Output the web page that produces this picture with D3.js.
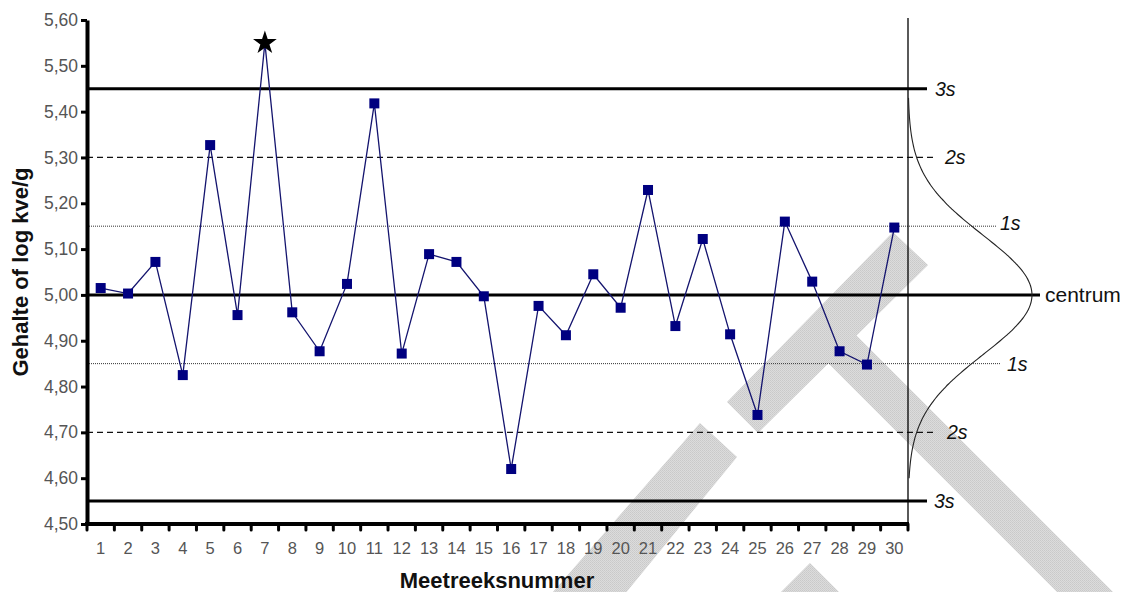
<!DOCTYPE html>
<html>
<head>
<meta charset="utf-8">
<script src="https://cdn.jsdelivr.net/npm/d3@7"></script>
<style>
  html, body { margin: 0; padding: 0; background: #fff; }
  svg { display: block; font-family: "Liberation Sans", Arial, sans-serif; }
</style>
</head>
<body>
<svg id="chart" width="1137" height="592"></svg>
<script>
// Run numbers (Meetreeksnummer) and measured content (log kve/g)
const categories = [1, 2, 3, 4, 5, 6, 7, 8, 9, 10, 11, 12, 13, 14, 15,
                    16, 17, 18, 19, 20, 21, 22, 23, 24, 25, 26, 27, 28, 29, 30];
const values = [5.015, 5.003, 5.072, 4.825, 5.327, 4.956, 5.550, 4.962, 4.877, 5.024,
                5.418, 4.872, 5.089, 5.072, 4.997, 4.620, 4.976, 4.912, 5.045, 4.972,
                5.229, 4.932, 5.122, 4.914, 4.738, 5.160, 5.029, 4.877, 4.848, 5.147];
// Runs outside the 3s limits are flagged with a star instead of a square
const flaggedRuns = [7];

// Y axis ticks
const yTicks = [4.50, 4.60, 4.70, 4.80, 4.90, 5.00, 5.10, 5.20, 5.30, 5.40, 5.50, 5.60];

// Control limits: centre line and +/- 1s, 2s, 3s
const centre = 5.00;
const sigma = 0.15;
const limitMultiples = [3, 2, 1, 0, -1, -2, -3];
const limitLabels = ["3s", "2s", "1s", "centrum", "1s", "2s", "3s"];
// spread used for the bell curve sketched beside the chart
const bellSpread = 0.13;
const bellRange = [4.60, 5.43];

// ---- layout ----
const svg = d3.select("#chart");
const plotLeft = 87, plotRight = 908, plotTop = 20, plotBottom = 524;

const x = d3.scaleBand().domain(categories).range([plotLeft, plotRight]);
const cx = d => x(d) + x.bandwidth() / 2;
const y = d3.scaleLinear().domain([4.5, 5.6]).range([plotBottom, plotTop]);

const nl = d3.formatLocale({ decimal: ",", thousands: ".", grouping: [3], currency: ["", ""] });
const fmt = nl.format(".2f");

// ---- watermark (light hatched stripes in the background) ----
const defs = svg.append("defs");
const pat = defs.append("pattern").attr("id", "wm").attr("patternUnits", "userSpaceOnUse")
  .attr("width", 2).attr("height", 2);
pat.append("rect").attr("width", 2).attr("height", 2).attr("fill", "#dcdcdc");
pat.append("rect").attr("width", 1).attr("height", 1).attr("fill", "#c9c9c9");
pat.append("rect").attr("x", 1).attr("y", 1).attr("width", 1).attr("height", 1).attr("fill", "#cecece");

const stripes = [
  [[700, 423], [737, 457], [620, 600], [546, 600]],
  [[727, 402], [893, 232], [928, 265], [758, 433]],
  [[828, 363], [856, 335], [1121, 600], [1065, 600]],
  [[773, 600], [810, 563], [847, 600]]
];
svg.append("g").selectAll("polygon").data(stripes).join("polygon")
  .attr("points", d => d.map(p => p.join(",")).join(" "))
  .attr("fill", "url(#wm)");

// ---- control limit lines ----
const limitEnds = [927, 935, 997, 1040, 1000, 937, 927];
const labelX = [935, 945, 1000, 1045, 1007, 947, 934];
const limits = limitMultiples.map((m, i) => ({
  m, v: centre + m * sigma, label: limitLabels[i], end: limitEnds[i], lx: labelX[i]
}));
const lineStyle = m => {
  const a = Math.abs(m);
  if (a === 3 || a === 0) return { w: 3, dash: null, c: "#000" };
  if (a === 2) return { w: 1.3, dash: "6,4", c: "#111" };
  return { w: 1, dash: "1,1", c: "#333" };
};
const gLim = svg.append("g");
gLim.selectAll("line").data(limits).join("line")
  .attr("x1", plotLeft).attr("x2", d => d.end)
  .attr("y1", d => y(d.v)).attr("y2", d => y(d.v))
  .attr("stroke", d => lineStyle(d.m).c)
  .attr("stroke-width", d => lineStyle(d.m).w)
  .attr("stroke-dasharray", d => lineStyle(d.m).dash);
gLim.selectAll("text").data(limits).join("text")
  .attr("x", d => d.lx).attr("y", d => y(d.v) + (d.m === 1 ? -3 : 0))
  .attr("dy", "0.36em")
  .attr("font-size", d => d.m === 0 ? 21 : 19.5)
  .attr("font-style", d => d.m === 0 ? "normal" : "italic")
  .attr("fill", "#111")
  .text(d => d.label);

// right-hand vertical line and bell curve
svg.append("line").attr("x1", plotRight).attr("x2", plotRight)
  .attr("y1", plotTop - 2).attr("y2", plotBottom)
  .attr("stroke", "#000").attr("stroke-width", 1.3);

const bellWidth = 124;
const bellPts = d3.range(bellRange[0], bellRange[1] + 1e-9, 0.005);
const bell = d3.line()
  .x(v => plotRight + bellWidth * Math.exp(-0.5 * Math.pow((v - centre) / bellSpread, 2)))
  .y(v => y(v))
  .curve(d3.curveBasis);
svg.append("path").attr("d", bell(bellPts))
  .attr("fill", "none").attr("stroke", "#222").attr("stroke-width", 1.1);

// ---- data series ----
const pts = categories.map((c, i) => ({ c, v: values[i] }));
svg.append("path")
  .attr("d", d3.line().x(d => cx(d.c)).y(d => y(d.v))(pts))
  .attr("fill", "none").attr("stroke", "#14146e").attr("stroke-width", 1.3);

const sq = 10;
svg.append("g").selectAll("rect").data(pts.filter(d => !flaggedRuns.includes(d.c))).join("rect")
  .attr("x", d => cx(d.c) - sq / 2).attr("y", d => y(d.v) - sq / 2)
  .attr("width", sq).attr("height", sq).attr("fill", "#000080");

svg.append("g").selectAll("path").data(pts.filter(d => flaggedRuns.includes(d.c))).join("path")
  .attr("transform", d => `translate(${cx(d.c)},${y(d.v)})`)
  .attr("d", d3.symbol(d3.symbolStar, 175))
  .attr("fill", "#000");

// ---- axes ----
const yAxis = svg.append("g").attr("transform", `translate(${plotLeft},0)`)
  .call(d3.axisLeft(y).tickValues(yTicks).tickFormat(fmt).tickSize(6).tickPadding(3).tickSizeOuter(0));
yAxis.select(".domain").attr("stroke", "#000").attr("stroke-width", 4);
yAxis.selectAll(".tick line").attr("stroke", "#000").attr("stroke-width", 3);
yAxis.selectAll(".tick text").attr("font-size", 17.5).attr("fill", "#555")
  .attr("font-family", "'Liberation Sans', Arial, sans-serif");

// x axis: baseline, boundary ticks, centred labels
svg.append("line").attr("x1", plotLeft - 2).attr("x2", plotRight + 1)
  .attr("y1", plotBottom).attr("y2", plotBottom)
  .attr("stroke", "#000").attr("stroke-width", 4);
const bounds = categories.map(c => x(c)).concat([x(categories[categories.length - 1]) + x.bandwidth()]);
svg.append("g").selectAll("line").data(bounds).join("line")
  .attr("x1", d => d).attr("x2", d => d)
  .attr("y1", plotBottom).attr("y2", plotBottom + 6)
  .attr("stroke", "#000").attr("stroke-width", 3).attr("stroke-linecap", "round");
svg.append("g").selectAll("text").data(categories).join("text")
  .attr("x", d => cx(d)).attr("y", 554)
  .attr("text-anchor", "middle").attr("font-size", 16.5).attr("fill", "#555")
  .text(d => d);

// axis titles
svg.append("text").attr("x", 497).attr("y", 588)
  .attr("text-anchor", "middle").attr("font-size", 22).attr("font-weight", "bold").attr("fill", "#111")
  .text("Meetreeksnummer");
svg.append("text").attr("transform", "translate(28,272) rotate(-90)")
  .attr("text-anchor", "middle").attr("font-size", 22).attr("font-weight", "bold").attr("fill", "#111")
  .text("Gehalte of log kve/g");
</script>
</body>
</html>
